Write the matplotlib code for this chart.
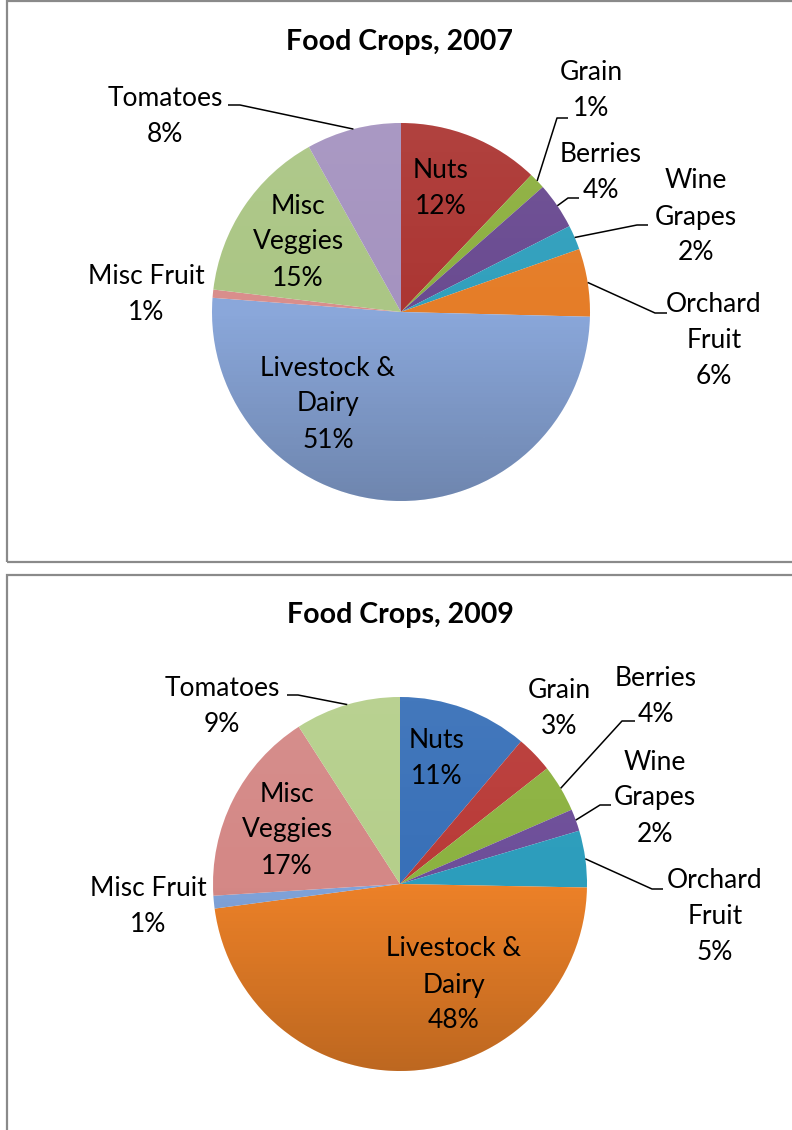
import numpy as np
import matplotlib
matplotlib.use("Agg")
import matplotlib.pyplot as plt
from matplotlib.patches import Rectangle, Circle

# ---------------- data ----------------
categories = ["Nuts", "Grain", "Berries", "Wine Grapes", "Orchard Fruit",
              "Livestock & Dairy", "Misc Fruit", "Misc Veggies", "Tomatoes"]
values_2007 = [12.1, 1.4, 4.0, 2.1, 5.8, 50.8, 0.7, 15.0, 8.1]
values_2009 = [11.2, 3.2, 4.1, 1.9, 4.9, 47.6, 1.1, 16.9, 9.1]
titles = ["Food Crops, 2007", "Food Crops, 2009"]

colors_2007 = ["#AC3633", "#8DB040", "#6A4B91", "#31A0BD", "#E57D28",
               "#8AA7DA", "#D98E8C", "#ABC685", "#A593C0"]
colors_2009 = ["#3870B8", "#B93A37", "#8CB240", "#6D4E99", "#2C9DBC",
               "#EC8128", "#80A3DA", "#D48886", "#B5CF8B"]

# display names (line breaks) per panel
names_2007 = ["Nuts", "Grain", "Berries", "Wine\nGrapes", "Orchard\nFruit",
              "Livestock &\nDairy", "Misc Fruit", "Misc\nVeggies", "Tomatoes"]
names_2009 = names_2007

W, H = 792, 1130
fig = plt.figure(figsize=(W / 100, H / 100), dpi=100)
ax = fig.add_axes([0, 0, 1, 1])
ax.set_xlim(0, W)
ax.set_ylim(0, H)
ax.axis("off")

FONT = "Lato"
FS = 19
TFS = 20.5
LS = 1.55


def Y(y):
    return H - y


# panel borders
for (y0, y1) in [(1, 562), (575, 1200)]:
    ax.add_patch(Rectangle((7, Y(y1)), 900, y1 - y0, fill=False,
                           edgecolor="#8A8A8A", lw=1.6, clip_on=False))

# label layouts: (text centre x, text centre y, leader) ; leader = None or (x_text_end, y, x_bend)
layout_2007 = [
    (441, 188, None),
    (591, 91, (568, 118, 557)),
    (601, 173, (579, 198, 568)),
    (696, 217, (648, 225, 637)),
    (714, 340, (667, 313, 655)),
    (328, 404, None),
    (146, 294, None),
    (298, 242, None),
    (165, 116, (228, 105, 240)),
]
layout_2009 = [
    (437, 759, None),
    (559, 709, None),
    (656, 696, (635, 721, 622)),
    (655, 798, (611, 805, 600)),
    (715, 917, (663, 889, 652)),
    (454, 985, None),
    (148, 907, None),
    (287, 830, None),
    (222, 707, (287, 695, 298)),
]

panels = [
    (values_2007, colors_2007, names_2007, layout_2007, (401, 312), 189, 42),
    (values_2009, colors_2009, names_2009, layout_2009, (400, 884), 187, 615),
]

for idx, (vals, cols, names, lay, (cx, cy), R, ty) in enumerate(panels):
    center = (cx, Y(cy))
    wedges, _ = ax.pie(vals, colors=cols, startangle=90, counterclock=False,
                       center=center, radius=R, frame=True,
                       wedgeprops=dict(linewidth=0))
    # vertical shading gradient clipped to the pie
    n = 256
    t = np.linspace(0, 1, n)[:, None]  # 0 top -> 1 bottom
    rgba = np.zeros((n, 2, 4))
    top_a = 0.06 * np.clip(1 - 2 * t, 0, 1)
    bot_a = 0.20 * np.clip(2 * t - 1, 0, 1)
    rgba[..., 0:3] = np.where(t[..., None] < 0.5, 1.0, 0.0)
    rgba[..., 3] = (top_a + bot_a)[:, 0][:, None]
    im = ax.imshow(rgba, extent=(cx - R, cx + R, Y(cy) - R, Y(cy) + R),
                   origin="upper", aspect="auto", zorder=3, interpolation="bilinear")
    circ = Circle(center, R, transform=ax.transData)
    im.set_clip_path(circ)

    total = sum(vals)
    for w, v, name, (tx, tyy, leader) in zip(wedges, vals, names, lay):
        pct = int(round(100 * v / total))
        ax.text(tx, Y(tyy), f"{name}\n{pct}%", ha="center", va="center",
                multialignment="center", fontsize=FS, family=FONT,
                color="black", linespacing=LS, zorder=5)
        if leader is not None:
            mid = np.deg2rad((w.theta1 + w.theta2) / 2)
            ex = cx + R * np.cos(mid)
            ey = Y(cy) + R * np.sin(mid)
            x0, yl, xb = leader
            ax.plot([x0, xb, ex], [Y(yl), Y(yl), ey], color="black", lw=1.1,
                    zorder=4, solid_capstyle="butt")

    ax.text(400, Y(ty), titles[idx], ha="center", va="center", fontsize=TFS,
            family=FONT, fontweight="bold", color="black")

ax.set_xlim(0, W)
ax.set_ylim(0, H)
ax.set_aspect("auto")
ax.axis("off")
fig.savefig("out.png", dpi=100)
